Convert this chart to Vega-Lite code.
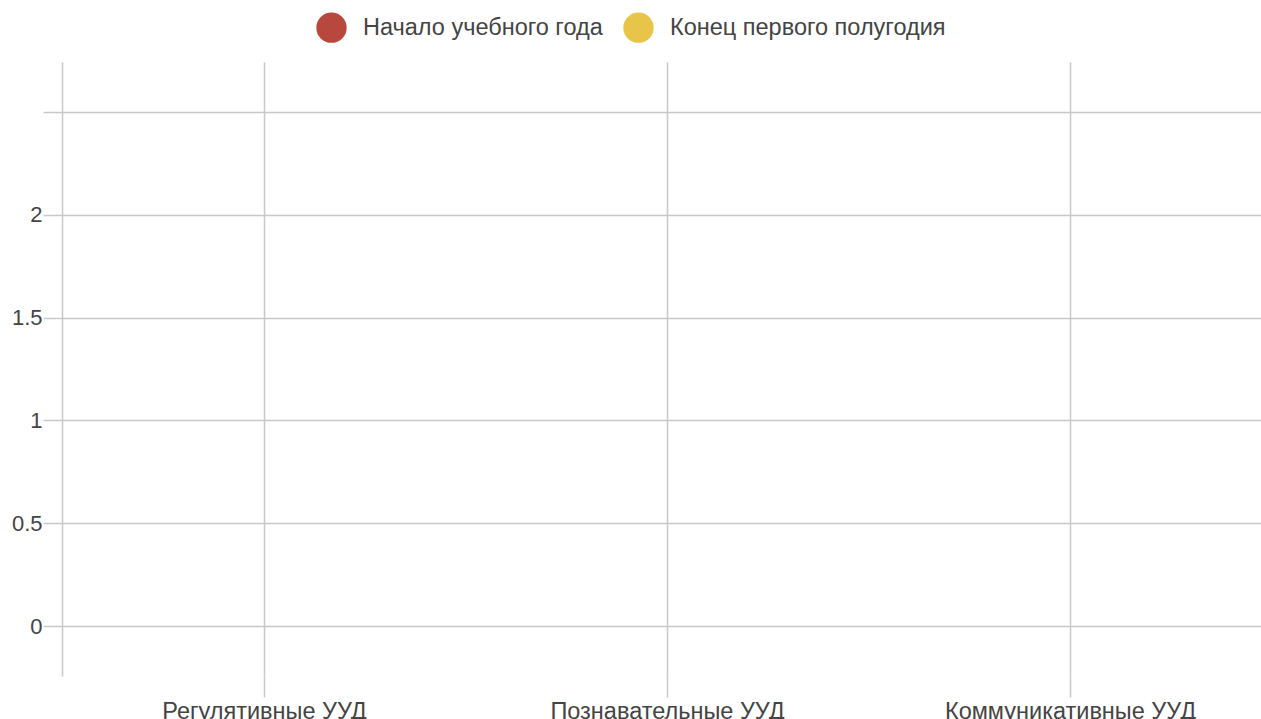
{
  "$schema": "https://vega.github.io/schema/vega-lite/v6.json",
  "width": 1199,
  "height": 614,
  "autosize": {"type": "none"},
  "padding": {"left": 62, "top": 62, "right": 0, "bottom": 43},
  "background": "#ffffff",
  "data": {
    "values": [
      {"category": "Регулятивные УУД", "series": "Начало учебного года", "value": null},
      {"category": "Регулятивные УУД", "series": "Конец первого полугодия", "value": null},
      {"category": "Познавательные УУД", "series": "Начало учебного года", "value": null},
      {"category": "Познавательные УУД", "series": "Конец первого полугодия", "value": null},
      {"category": "Коммуникативные УУД", "series": "Начало учебного года", "value": null},
      {"category": "Коммуникативные УУД", "series": "Конец первого полугодия", "value": null}
    ]
  },
  "mark": {"type": "point", "filled": true, "size": 200},
  "encoding": {
    "x": {
      "field": "category",
      "type": "nominal",
      "sort": null,
      "scale": {
        "type": "point",
        "domain": ["Регулятивные УУД", "Познавательные УУД", "Коммуникативные УУД"],
        "padding": 0.4876,
        "align": 0.514
      },
      "axis": {
        "title": null,
        "domain": false,
        "grid": true,
        "gridColor": "#c8c8c8",
        "gridWidth": 1.5,
        "ticks": true,
        "tickSize": 21,
        "tickColor": "#c8c8c8",
        "tickWidth": 1.5,
        "labelAngle": 0,
        "labelPadding": 2,
        "labelLimit": 0,
        "labelFont": "Liberation Sans",
        "labelFontSize": 23.5,
        "labelColor": "#444444",
        "labelBaseline": "top"
      }
    },
    "y": {
      "field": "value",
      "type": "quantitative",
      "scale": {"domain": [-0.243, 2.743], "nice": false, "zero": false},
      "axis": {
        "title": null,
        "values": [0, 0.5, 1, 1.5, 2, 2.5],
        "labelExpr": "datum.value == 2.5 ? '' : format(datum.value, '~g')",
        "domain": true,
        "domainColor": "#c8c8c8",
        "domainWidth": 1.5,
        "grid": true,
        "gridColor": "#c8c8c8",
        "gridWidth": 1.5,
        "ticks": true,
        "tickSize": 19,
        "tickColor": "#c8c8c8",
        "tickWidth": 1.5,
        "labelPadding": 1,
        "labelFont": "Liberation Sans",
        "labelFontSize": 22,
        "labelColor": "#444444"
      }
    },
    "color": {
      "field": "series",
      "type": "nominal",
      "scale": {
        "domain": ["Начало учебного года", "Конец первого полугодия"],
        "range": ["#b8473d", "#e8c44b"]
      },
      "legend": {
        "title": null,
        "orient": "none",
        "direction": "horizontal",
        "legendX": 254,
        "legendY": -50,
        "padding": 0,
        "symbolType": "circle",
        "symbolSize": 920,
        "symbolStrokeWidth": 0,
        "symbolOpacity": 1,
        "labelOffset": 16,
        "columnPadding": 20,
        "labelFont": "Liberation Sans",
        "labelFontSize": 23.5,
        "labelColor": "#444444",
        "labelLimit": 0
      }
    }
  },
  "config": {
    "view": {"stroke": null}
  }
}
